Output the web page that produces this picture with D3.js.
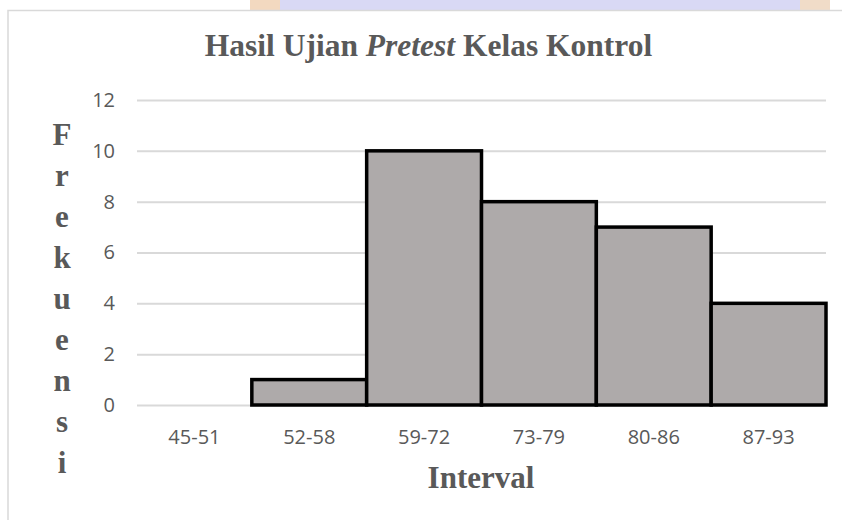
<!DOCTYPE html>
<html lang="id">
<head>
<meta charset="UTF-8">
<title>Hasil Ujian Pretest Kelas Kontrol</title>
<script src="https://cdn.jsdelivr.net/npm/d3@7"></script>
<style>
    body { margin: 0; background: #fff; }
    .grid line { stroke: #d9d9d9; stroke-width: 2px; }
    .grid path { display: none; }
    .axis path, .axis line { display: none; }
    .axis text { font-family: "Open Sans", sans-serif; font-size: 20px; fill: #595959; }
    .judul { font-family: "Liberation Serif", "Times New Roman", serif; font-weight: bold; fill: #595959; }
    .bar { fill: #aeaaaa; stroke: #000; stroke-width: 3.5px; }
</style>
</head>
<body>
<svg width="842" height="520"></svg>
<script>
    // data dari grafik
    var intervals = ["45-51", "52-58", "59-72", "73-79", "80-86", "87-93"];
    var frekuensi = [0, 1, 10, 8, 7, 4];
    var yTicks = [0, 2, 4, 6, 8, 10, 12];
    var yLabel = "Frekuensi";
    var xLabel = "Interval";

    var svg = d3.select("svg");

    // batas area plot (jangan pakai nama "top", bentrok dengan window.top)
    var plotLeft = 137, plotRight = 826, plotTop = 100, plotBottom = 405;

    // watermark samar di atas
    svg.append("rect").attr("x", 250).attr("y", 0).attr("width", 580).attr("height", 10)
        .attr("fill", "#cfd0f2").attr("opacity", 0.8);
    svg.append("rect").attr("x", 250).attr("y", 0).attr("width", 30).attr("height", 10)
        .attr("fill", "#f3d9c0");
    svg.append("rect").attr("x", 800).attr("y", 0).attr("width", 30).attr("height", 10)
        .attr("fill", "#f0dcc8");

    // bingkai chart
    svg.append("rect")
        .attr("x", 8).attr("y", 10.5)
        .attr("width", 900).attr("height", 600)
        .attr("fill", "#fff")
        .attr("stroke", "#d9d9d9")
        .attr("stroke-width", 1.5);

    var x = d3.scaleBand().domain(intervals).range([plotLeft, plotRight]).padding(0);
    var y = d3.scaleLinear().domain([0, 12]).range([plotBottom, plotTop]);

    svg.append("g")
        .attr("class", "grid")
        .attr("transform", "translate(" + plotLeft + ",0)")
        .call(d3.axisLeft(y).tickValues(yTicks).tickSize(-(plotRight - plotLeft)).tickFormat(""));

    svg.append("g")
        .attr("class", "axis")
        .attr("transform", "translate(" + plotLeft + ",0)")
        .call(d3.axisLeft(y).tickValues(yTicks).tickSize(0).tickPadding(22));

    svg.append("g")
        .attr("class", "axis")
        .attr("transform", "translate(0," + plotBottom + ")")
        .call(d3.axisBottom(x).tickSize(0).tickPadding(25));

    var data = intervals.map(function(d, i) { return { k: d, v: frekuensi[i] }; })
        .filter(function(d) { return d.v > 0; });

    svg.append("g")
        .selectAll("rect")
        .data(data)
        .enter().append("rect")
        .attr("class", "bar")
        .attr("x", function(d) { return x(d.k); })
        .attr("y", function(d) { return y(d.v); })
        .attr("width", x.bandwidth())
        .attr("height", function(d) { return plotBottom - y(d.v); });

    // judul
    var t = svg.append("text")
        .attr("class", "judul")
        .attr("x", 428.5).attr("y", 56)
        .attr("text-anchor", "middle")
        .attr("font-size", 31.5);
    t.append("tspan").text("Hasil Ujian ");
    t.append("tspan").attr("font-style", "italic").text("Pretest");
    t.append("tspan").text(" Kelas Kontrol");

    // label sumbu y, huruf bersusun
    svg.append("g")
        .selectAll("text")
        .data(yLabel.split(""))
        .enter().append("text")
        .attr("class", "judul")
        .attr("font-size", 31)
        .attr("text-anchor", "middle")
        .attr("x", 62)
        .attr("y", function(d, i) { return 145 + i * 41; })
        .text(function(d) { return d; });

    svg.append("text")
        .attr("class", "judul")
        .attr("font-size", 31)
        .attr("text-anchor", "middle")
        .attr("x", 481).attr("y", 488)
        .text(xLabel);
</script>
</body>
</html>
